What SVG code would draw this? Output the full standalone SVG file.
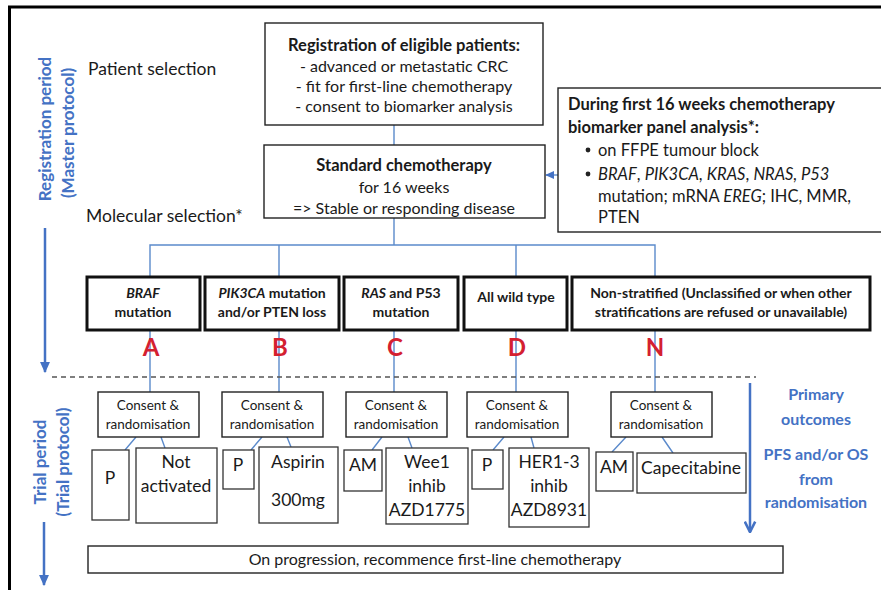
<svg xmlns="http://www.w3.org/2000/svg" width="881" height="590" viewBox="0 0 881 590">
<defs>
<marker id="tri" viewBox="0 0 10 10" refX="9" refY="5" markerWidth="11" markerHeight="11" orient="auto" markerUnits="userSpaceOnUse"><path d="M0,0.5 L10,5 L0,9.5 z" fill="#4472C4"/></marker>
<marker id="vee" viewBox="0 0 10 10" refX="9" refY="5" markerWidth="13" markerHeight="13" orient="auto" markerUnits="userSpaceOnUse"><path d="M1,1 L9,5 L1,9" fill="none" stroke="#4472C4" stroke-width="2"/></marker>
<marker id="tri2" viewBox="0 0 10 10" refX="9" refY="5" markerWidth="9" markerHeight="9" orient="auto" markerUnits="userSpaceOnUse"><path d="M0,0.5 L10,5 L0,9.5 z" fill="#4472C4"/></marker>
</defs>
<style>
text{font-family:Lato,"Liberation Sans",sans-serif;fill:#1a1a1a}
.c{text-anchor:middle}
.b{font-weight:bold}
.i{font-style:italic}
.t16{font-size:16px}
.t165{font-size:16.5px}
.t14{font-size:14px}
.t13{font-size:13.5px}
.t17{font-size:17.5px}
.box{fill:#fff;stroke:#222;stroke-width:1.4}
.cat{fill:#fff;stroke:#111;stroke-width:3}
.sub{fill:#fff;stroke:#333;stroke-width:1.3}
.ln{fill:none;stroke:#5B8ACB;stroke-width:1.4}
.blue{fill:#4472C4;font-weight:bold}
.red{fill:#D42030;font-weight:bold;font-size:24px;text-anchor:middle}
</style>
<rect width="881" height="590" fill="#fff"/>
<path d="M9.5,590 V7 H881" fill="none" stroke="#000" stroke-width="3"/>

<g id="side-labels">
<text class="blue c" style="font-size:17px" transform="translate(51,129) rotate(-90)">Registration period</text>
<text class="blue c" style="font-size:17px" transform="translate(74,133) rotate(-90)">(Master protocol)</text>
<text class="blue c" style="font-size:17px" transform="translate(46,462) rotate(-90)">Trial period</text>
<text class="blue c" style="font-size:17px" transform="translate(69,462) rotate(-90)">(Trial protocol)</text>
<text class="t17" x="88" y="75">Patient selection</text>
<text class="t17" x="86" y="222">Molecular selection*</text>
</g>

<g id="connectors">
<line class="ln" x1="394" y1="125" x2="394" y2="145"/>
<line class="ln" x1="558" y1="175" x2="546" y2="175" marker-end="url(#tri2)"/>
<path class="ln" d="M394,218 V245 M150,277 V245 H655 V277 M279,245 V277 M516,245 V277"/>
<path class="ln" d="M150,330 V392 M279,330 V392 M394,330 V392 M516,330 V392 M655,330 V392"/>
<path class="ln" d="M136,437 L125,450 M161,437 L165,448 M262,437 L251,450 M287,437 L291,447 M382,437 L372,450 M408,437 L412,448 M504,437 L493,450 M531,437 L534,448 M626,437 L612,452 M662,437 L673,453"/>
<line x1="52" y1="377" x2="756" y2="377" stroke="#555" stroke-width="1.5" stroke-dasharray="5,4"/>
<line x1="45" y1="228" x2="45" y2="372" stroke="#4472C4" stroke-width="2.5" marker-end="url(#tri)"/>
<line x1="44" y1="522" x2="44" y2="585" stroke="#4472C4" stroke-width="2.5" marker-end="url(#tri)"/>
<line x1="750" y1="383" x2="750" y2="532" stroke="#4472C4" stroke-width="2.5" marker-end="url(#vee)"/>
</g>

<g id="registration">
<rect class="box" x="265" y="23" width="278" height="102"/>
<text class="t165 c b" x="404" y="51">Registration of eligible patients:</text>
<text class="t16 c" x="404" y="72">- advanced or metastatic CRC</text>
<text class="t16 c" x="404" y="92">- fit for first-line chemotherapy</text>
<text class="t16 c" x="404" y="112">- consent to biomarker analysis</text>
</g>

<g id="standard-chemo">
<rect class="box" x="264" y="145" width="281" height="73"/>
<text class="t165 c b" x="404" y="171">Standard chemotherapy</text>
<text class="t16 c" x="404" y="193">for 16 weeks</text>
<text class="t16 c" x="404" y="214">=&gt; Stable or responding disease</text>
</g>

<g id="biomarker-panel">
<rect class="box" x="558" y="88" width="330" height="144"/>
<text class="t165 b" x="568" y="110">During first 16 weeks chemotherapy</text>
<text class="t165 b" x="568" y="133">biomarker panel analysis*:</text>
<circle cx="588" cy="150" r="2.4" fill="#222"/>
<text class="t165" x="598" y="156">on FFPE tumour block</text>
<circle cx="588" cy="174" r="2.4" fill="#222"/>
<text class="t165" x="598" y="180"><tspan class="i">BRAF</tspan>, <tspan class="i">PIK3CA</tspan>, <tspan class="i">KRAS</tspan>, <tspan class="i">NRAS, P53</tspan></text>
<text class="t165" x="598" y="202">mutation; mRNA <tspan class="i">EREG</tspan>; IHC, MMR,</text>
<text class="t165" x="598" y="223">PTEN</text>
</g>

<g id="cat-A">
<rect class="cat" x="87" y="277" width="113" height="53"/>
<text class="t14 c b i" x="143" y="298">BRAF</text>
<text class="t14 c b" x="143" y="317">mutation</text>
<text class="red" x="151" y="356">A</text>
</g>
<g id="cat-B">
<rect class="cat" x="205" y="277" width="134" height="53"/>
<text class="t14 c b" x="272" y="298"><tspan class="i">PIK3CA</tspan> mutation</text>
<text class="t14 c b" x="272" y="317">and/or PTEN loss</text>
<text class="red" x="280" y="356">B</text>
</g>
<g id="cat-C">
<rect class="cat" x="344" y="277" width="114" height="53"/>
<text class="t14 c b" x="401" y="298"><tspan class="i">RAS</tspan> and P53</text>
<text class="t14 c b" x="401" y="317">mutation</text>
<text class="red" x="395" y="356">C</text>
</g>
<g id="cat-D">
<rect class="cat" x="464" y="277" width="103" height="53"/>
<text class="t14 c b" x="516" y="302">All wild type</text>
<text class="red" x="517" y="356">D</text>
</g>
<g id="cat-N">
<rect class="cat" x="572" y="277" width="298" height="53"/>
<text class="t14 c b" x="721" y="298">Non-stratified (Unclassified or when other</text>
<text class="t14 c b" x="721" y="317">stratifications are refused or unavailable)</text>
<text class="red" x="655" y="356">N</text>
</g>

<g id="consent-A">
<rect class="box" x="98" y="392" width="101" height="45"/>
<text class="t13 c" x="148" y="410">Consent &amp;</text>
<text class="t13 c" x="148" y="429">randomisation</text>
</g>
<g id="consent-B">
<rect class="box" x="222" y="392" width="101" height="45"/>
<text class="t13 c" x="272" y="410">Consent &amp;</text>
<text class="t13 c" x="272" y="429">randomisation</text>
</g>
<g id="consent-C">
<rect class="box" x="346" y="392" width="101" height="45"/>
<text class="t13 c" x="396" y="410">Consent &amp;</text>
<text class="t13 c" x="396" y="429">randomisation</text>
</g>
<g id="consent-D">
<rect class="box" x="467" y="392" width="101" height="45"/>
<text class="t13 c" x="517" y="410">Consent &amp;</text>
<text class="t13 c" x="517" y="429">randomisation</text>
</g>
<g id="consent-N">
<rect class="box" x="611" y="392" width="101" height="45"/>
<text class="t13 c" x="661" y="410">Consent &amp;</text>
<text class="t13 c" x="661" y="429">randomisation</text>
</g>

<g id="arm-A-P">
<rect class="sub" x="92" y="450" width="37" height="70"/>
<text class="t17 c" x="110" y="484">P</text>
</g>
<g id="arm-A-drug">
<rect class="sub" x="136" y="448" width="81" height="75"/>
<text class="t17 c" x="176" y="468">Not</text>
<text class="t17 c" x="176" y="492">activated</text>
</g>
<g id="arm-B-P">
<rect class="sub" x="223" y="450" width="31" height="39"/>
<text class="t17 c" x="238" y="471">P</text>
</g>
<g id="arm-B-drug">
<rect class="sub" x="259" y="447" width="79" height="76"/>
<text class="t17 c" x="298" y="468">Aspirin</text>
<text class="t17 c" x="298" y="506">300mg</text>
</g>
<g id="arm-C-AM">
<rect class="sub" x="344" y="450" width="38" height="41"/>
<text class="t17 c" x="363" y="471">AM</text>
</g>
<g id="arm-C-drug">
<rect class="sub" x="386" y="448" width="82" height="76"/>
<text class="t17 c" x="427" y="468">Wee1</text>
<text class="t17 c" x="427" y="492">inhib</text>
<text class="t17 c" x="427" y="516">AZD1775</text>
</g>
<g id="arm-D-P">
<rect class="sub" x="472" y="450" width="31" height="39"/>
<text class="t17 c" x="487" y="471">P</text>
</g>
<g id="arm-D-drug">
<rect class="sub" x="509" y="448" width="80" height="79"/>
<text class="t17 c" x="549" y="468">HER1-3</text>
<text class="t17 c" x="549" y="492">inhib</text>
<text class="t17 c" x="549" y="516">AZD8931</text>
</g>
<g id="arm-N-AM">
<rect class="sub" x="596" y="452" width="37" height="39"/>
<text class="t17 c" x="614" y="473">AM</text>
</g>
<g id="arm-N-drug">
<rect class="sub" x="637" y="453" width="109" height="40"/>
<text class="t17 c" x="691" y="474">Capecitabine</text>
</g>

<g id="outcomes">
<text class="blue t16 c" x="816" y="400">Primary</text>
<text class="blue t16 c" x="816" y="425">outcomes</text>
<text class="blue t16 c" x="816" y="460">PFS and/or OS</text>
<text class="blue t16 c" x="816" y="485">from</text>
<text class="blue t16 c" x="816" y="508">randomisation</text>
</g>

<g id="progression">
<rect class="box" x="88" y="546" width="695" height="27"/>
<text class="t16 c" x="435" y="565">On progression, recommence first-line chemotherapy</text>
</g>
</svg>
